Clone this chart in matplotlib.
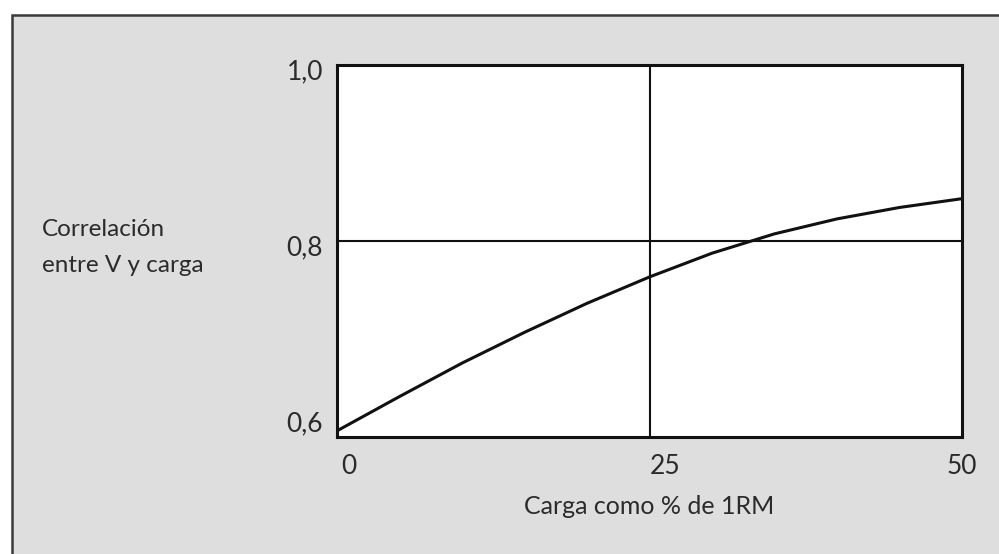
import matplotlib
matplotlib.use("Agg")
import matplotlib.pyplot as plt
from matplotlib.patches import Rectangle
from matplotlib.transforms import ScaledTranslation

# Correlation between velocity and load, by load as % of 1RM
load_pct = [0, 5, 10, 15, 20, 25, 30, 35, 40, 45, 50]
correlation = [0.584, 0.623, 0.661, 0.696, 0.729, 0.759, 0.786, 0.808, 0.825, 0.838, 0.848]

x_ticks = [0, 25, 50]
x_tick_labels = ["0", "25", "50"]
y_ticks = [0.6, 0.8, 1.0]
y_tick_labels = ["0,6", "0,8", "1,0"]

ref_x = 25
ref_y = 0.8

plt.rcParams["font.family"] = ["Lato", "DejaVu Sans"]
text_color = "#2b2b2b"

W, H = 999, 554
fig = plt.figure(figsize=(W / 100, H / 100), dpi=100, facecolor="white")

# grey panel with a dark frame on its top and left edges
panel = Rectangle((12 / W, -0.1), 1.0, 1.1 - 15 / H, transform=fig.transFigure,
                  facecolor="#dedede", edgecolor="#3a3a3a", linewidth=1.8,
                  zorder=0)
fig.patches.append(panel)

ax = fig.add_axes([337 / W, 1 - 437 / H, (962 - 337) / W, (437 - 65) / H])
ax.set_zorder(2)
ax.set_facecolor("white")

ax.plot(load_pct, correlation, color="#111111", linewidth=2.2,
        solid_capstyle="round", zorder=3)
ax.axhline(ref_y, color="#111111", linewidth=1.5, zorder=2)
ax.axvline(ref_x, color="#111111", linewidth=1.5, zorder=2)

ax.set_xlim(0, 50)
ax.set_ylim(0.577, 1.0)

ax.set_xticks(x_ticks)
ax.set_xticklabels(x_tick_labels)
ax.set_yticks(y_ticks)
ax.set_yticklabels(y_tick_labels)
ax.tick_params(axis="both", length=0, labelsize=19, colors=text_color)
ax.tick_params(axis="x", pad=12)
ax.tick_params(axis="y", pad=10)

# value labels sit slightly below their reference line
shift_down = ScaledTranslation(0, -0.07, fig.dpi_scale_trans)
for lab in ax.get_yticklabels():
    lab.set_va("center")
    lab.set_transform(lab.get_transform() + shift_down)
xlabs = ax.get_xticklabels()
xlabs[0].set_ha("left")
xlabs[1].set_ha("left")
shift_right = ScaledTranslation(0.04, 0, fig.dpi_scale_trans)
xlabs[0].set_transform(xlabs[0].get_transform() + shift_right)

for s in ax.spines.values():
    s.set_color("#111111")
    s.set_linewidth(2.2)

ax.set_xlabel("Carga como % de 1RM", fontsize=18, color=text_color,
              labelpad=12)

fig.text(42 / W, 1 - 229 / H, "Correlación", fontsize=17.5, color=text_color,
         ha="left", va="center")
fig.text(42 / W, 1 - 266 / H, "entre V y carga", fontsize=17.5,
         color=text_color, ha="left", va="center")

fig.savefig("out.png", dpi=100, facecolor=fig.get_facecolor())
